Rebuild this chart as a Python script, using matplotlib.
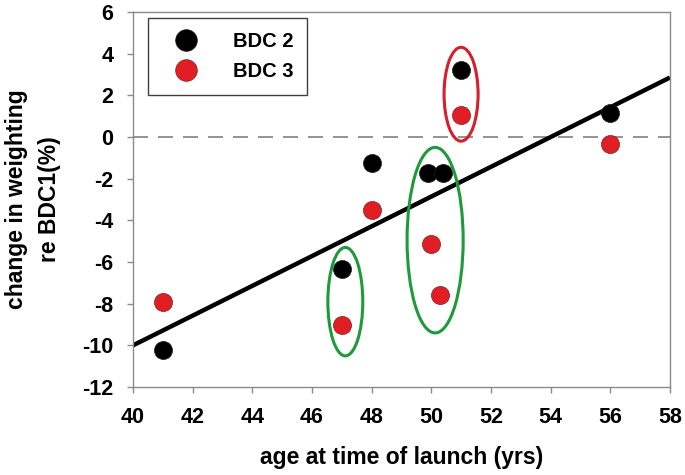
import matplotlib.pyplot as plt
from matplotlib.patches import Ellipse

plt.rcParams['font.family'] = ['Liberation Sans', 'DejaVu Sans']
plt.rcParams['font.weight'] = 'bold'
plt.rcParams['axes.unicode_minus'] = False

# data
age_bdc2 = [41, 47, 48, 49.9, 50.4, 51, 56]
chg_bdc2 = [-10.2, -6.35, -1.25, -1.75, -1.75, 3.2, 1.15]
age_bdc3 = [41, 47, 48, 50.0, 50.3, 51, 56]
chg_bdc3 = [-7.9, -9.0, -3.5, -5.15, -7.6, 1.05, -0.35]

fit_x = [40, 58]
fit_y = [-10.0, 2.85]

# groups circled in the figure: (x centre, y centre, width, height, colour)
groups_x = [47.12, 50.13, 51.0]
groups_y = [-7.9, -4.95, 2.05]
groups_w = [1.17, 1.88, 1.14]
groups_h = [5.2, 8.9, 4.5]
groups_c = ['#1e9a3c', '#1e9a3c', '#d4202c']

fig = plt.figure(figsize=(6.85, 4.75), dpi=100)
ax = fig.add_axes([0.194, 0.185, 0.784, 0.79])

ax.axhline(0, color='#808080', lw=1.2, dashes=(9, 6), zorder=1)
ax.plot(fit_x, fit_y, color='black', lw=3.2, zorder=2, solid_capstyle='butt')

for x, y, w, h, c in zip(groups_x, groups_y, groups_w, groups_h, groups_c):
    ax.add_patch(Ellipse((x, y), w, h, fill=False, edgecolor=c, lw=2.2, zorder=4))

ax.plot(age_bdc2, chg_bdc2, 'o', color='black', ms=13, mec='#202020', mew=0.5,
        label='BDC 2', zorder=3)
ax.plot(age_bdc3, chg_bdc3, 'o', color='#e01e24', ms=13, mec='#802020', mew=0.5,
        label='BDC 3', zorder=3)

ax.set_xlim(40, 58)
ax.set_ylim(-12, 6)
ax.set_xticks(range(40, 59, 2))
ax.set_yticks(range(-12, 7, 2))

for s in ax.spines.values():
    s.set_color('#8a8a8a')
    s.set_linewidth(1.0)
ax.tick_params(direction='out', length=4, width=1, color='#8a8a8a', labelsize=15.5)
ax.tick_params(axis='x', pad=10)
ax.tick_params(axis='y', pad=10)
for t in ax.get_xticklabels() + ax.get_yticklabels():
    t.set_fontweight('bold')

ax.set_xlabel('age at time of launch (yrs)', fontsize=16.5, fontweight='bold', labelpad=13)
ax.set_ylabel('change in weighting\nre BDC1(%)', fontsize=16.5, fontweight='bold',
              labelpad=15, linespacing=1.55)

leg = ax.legend(loc='upper left', bbox_to_anchor=(0.028, 0.984), borderaxespad=0,
                fancybox=False, framealpha=1, edgecolor='#404040',
                prop={'weight': 'bold', 'size': 14.5}, handletextpad=1.1,
                borderpad=0.7, labelspacing=0.55, handlelength=2.4, markerscale=1.2)
leg.get_frame().set_linewidth(1.0)

fig.savefig('out.png', dpi=100)
